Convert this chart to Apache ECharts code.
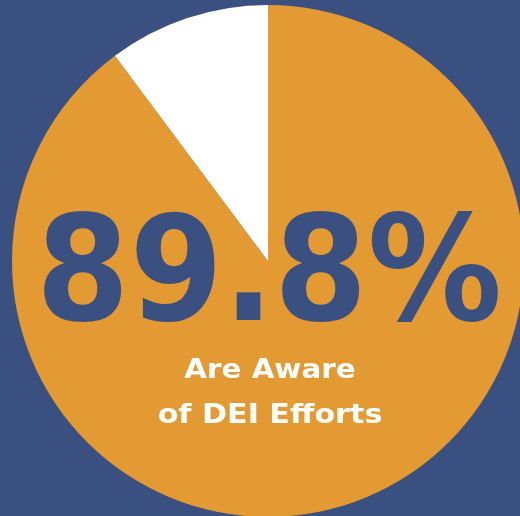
<!DOCTYPE html>
<html>
<head>
<meta charset="utf-8">
<script src="https://cdn.jsdelivr.net/npm/echarts@6/dist/echarts.min.js"></script>
<style>
  html, body { margin: 0; padding: 0; background: #3a5080; }
  #chart { width: 520px; height: 516px; }
</style>
</head>
<body>
<div id="chart"></div>
<script>
const categories = ['Aware', 'Not aware'];
const values = [89.8, 10.2];
const colors = ['#e39a32', '#ffffff'];
const captionLines = ['Are Aware', 'of DEI Efforts'];

const chart = echarts.init(document.getElementById('chart'));

// centred text block, squeezed/stretched horizontally to match the poster font
function label(text, x, y, font, fill, scaleX) {
    return {
        type: 'text',
        z: 100,
        x: x,
        y: y,
        scaleX: scaleX,
        style: {
            text: text,
            x: 0,
            y: 0,
            fill: fill,
            font: font,
            align: 'center',
            verticalAlign: 'middle'
        }
    };
}

chart.setOption({
    backgroundColor: '#3a5080',
    animation: false,
    series: [
        {
            type: 'pie',
            center: [268, 261],
            radius: 256,
            startAngle: 90,
            clockwise: true,
            silent: true,
            label: { show: false },
            labelLine: { show: false },
            itemStyle: { borderWidth: 0 },
            data: categories.map((name, i) => ({
                name: name,
                value: values[i],
                itemStyle: { color: colors[i] }
            }))
        }
    ],
    graphic: [
        label(values[0] + '%', 269, 282, 'bold 146px "DejaVu Sans"', '#3a5080', 0.92),
        label(captionLines[0], 270, 371, 'bold 26px "DejaVu Sans"', '#ffffff', 1.13),
        label(captionLines[1], 270, 416, 'bold 26px "DejaVu Sans"', '#ffffff', 1.16)
    ]
});
</script>
</body>
</html>
